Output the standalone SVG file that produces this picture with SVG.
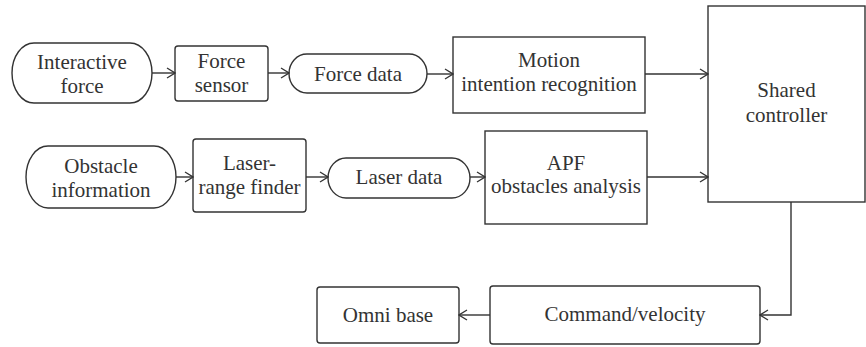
<svg xmlns="http://www.w3.org/2000/svg" width="866" height="347" viewBox="0 0 866 347">
<defs>
<marker id="arr" markerWidth="10" markerHeight="12" refX="9" refY="6" orient="auto" markerUnits="userSpaceOnUse">
<path d="M1,1 L9,6 L1,11" fill="none" stroke="#333" stroke-width="1.3"/>
</marker>
<style>
.b{fill:#fff;stroke:#333;stroke-width:1.4}
.t{font-size:21px;fill:#333;text-anchor:middle}
.c{fill:none;stroke:#333;stroke-width:1.4;marker-end:url(#arr)}
</style>
</defs>
<rect width="866" height="347" fill="#fff"/>
<g font-family="Liberation Serif, Times New Roman, serif">
<g id="interactive-force"><rect class="b" x="12" y="43" width="140" height="60" rx="22" ry="30"/><text class="t" x="82" y="69">Interactive</text><text class="t" x="82" y="93">force</text></g>
<g id="force-sensor"><rect class="b" x="175" y="46" width="93" height="55" rx="3"/><text class="t" x="221.5" y="68">Force</text><text class="t" x="221.5" y="92">sensor</text></g>
<g id="force-data"><rect class="b" x="289" y="54" width="138" height="39" rx="18" ry="19.5"/><text class="t" x="358" y="81">Force data</text></g>
<g id="motion"><rect class="b" x="453" y="37" width="192" height="76"/><text class="t" x="549" y="67">Motion</text><text class="t" x="549" y="91">intention recognition</text></g>
<g id="obstacle-info"><rect class="b" x="26" y="146" width="150" height="62" rx="22" ry="31"/><text class="t" x="101" y="173">Obstacle</text><text class="t" x="101" y="197">information</text></g>
<g id="laser-range"><rect class="b" x="193" y="139" width="113" height="73" rx="3"/><text class="t" x="249.5" y="170">Laser-</text><text class="t" x="249.5" y="194">range finder</text></g>
<g id="laser-data"><rect class="b" x="328" y="158" width="142" height="40" rx="18" ry="20"/><text class="t" x="399" y="184">Laser data</text></g>
<g id="apf"><rect class="b" x="485" y="131" width="162" height="93"/><text class="t" x="566" y="170">APF</text><text class="t" x="566" y="193">obstacles analysis</text></g>
<g id="shared-controller"><rect class="b" x="708" y="6" width="157" height="196"/><text class="t" x="786.5" y="97">Shared</text><text class="t" x="786.5" y="122">controller</text></g>
<g id="command-velocity"><rect class="b" x="490" y="286" width="270" height="58" rx="3"/><text class="t" x="625" y="321">Command/velocity</text></g>
<g id="omni-base"><rect class="b" x="317" y="287" width="142" height="56" rx="3"/><text class="t" x="388" y="322">Omni base</text></g>
</g>
<g id="connectors">
<path class="c" d="M152,73 H175"/>
<path class="c" d="M268,73 H289"/>
<path class="c" d="M427,74 H453"/>
<path class="c" d="M645,74 H708"/>
<path class="c" d="M176,177 H193"/>
<path class="c" d="M306,177 H328"/>
<path class="c" d="M470,177 H485"/>
<path class="c" d="M647,177 H708"/>
<path class="c" d="M791,202 V315 H760"/>
<path class="c" d="M490,315 H459"/>
</g>
</svg>
